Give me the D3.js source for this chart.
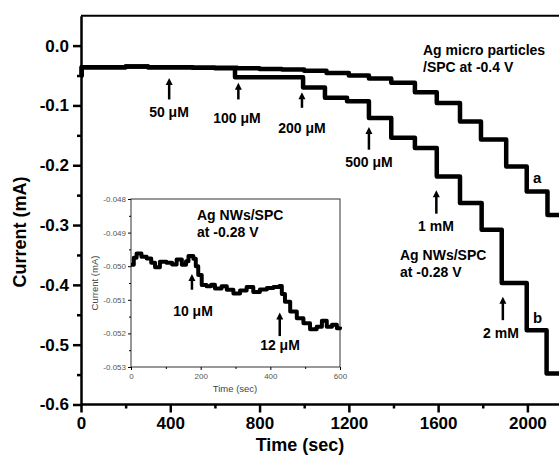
<!DOCTYPE html>
<html>
<head>
<meta charset="utf-8">
<script src="https://cdn.jsdelivr.net/npm/d3@7"></script>
<style>
  body { margin: 0; background: #fff; }
  svg { display: block; font-family: "Liberation Sans", Arial, sans-serif; }
</style>
</head>
<body>
<div id="chart"></div>
<script>
// Data
// ==================================================================
// curve a: Ag micro particles/SPC at -0.4 V  (time in sec, current in mA)
const timeA = [0, 3, 100, 200, 300, 400, 500, 600, 700, 800, 900, 1000, 1100, 1200, 1290, 1390, 1496, 1594, 1698, 1792, 1905, 1997, 2090, 2200];
const currA = [-0.050, -0.036, -0.036, -0.035, -0.036, -0.036, -0.037, -0.037, -0.038, -0.039, -0.040, -0.042, -0.046, -0.050, -0.055, -0.062, -0.078, -0.096, -0.127, -0.157, -0.202, -0.244, -0.283, -0.285];

// curve b: Ag NWs/SPC at -0.28 V
const timeB = [0, 3, 100, 200, 300, 400, 500, 600, 690, 995, 1093, 1192, 1290, 1390, 1496, 1594, 1698, 1795, 1885, 1997, 2086, 2200];
const currB = [-0.050, -0.036, -0.036, -0.035, -0.036, -0.036, -0.037, -0.038, -0.053, -0.070, -0.087, -0.093, -0.121, -0.154, -0.171, -0.219, -0.263, -0.308, -0.397, -0.476, -0.548, -0.550];

// inset trace
const timeInset = [0, 8, 16, 30, 45, 58, 69, 83, 102, 118, 131, 146, 158, 165, 179, 186, 193, 203, 217, 230, 241, 260, 275, 294, 313, 332, 351, 370, 390, 409, 426, 433, 442, 457, 476, 495, 514, 533, 548, 562, 577, 591, 600];
const currInset = [-0.04996, -0.04975, -0.04962, -0.04972, -0.04977, -0.04990, -0.05003, -0.04987, -0.04990, -0.04995, -0.04980, -0.04996, -0.04985, -0.04970, -0.04978, -0.05000, -0.05026, -0.05056, -0.05060, -0.05055, -0.05066, -0.05060, -0.05070, -0.05081, -0.05072, -0.05062, -0.05077, -0.05069, -0.05065, -0.05062, -0.05059, -0.05083, -0.05106, -0.05135, -0.05155, -0.05170, -0.05188, -0.05180, -0.05162, -0.05180, -0.05174, -0.05185, -0.05180];

// tick labels
const xTicks = [0, 400, 800, 1200, 1600, 2000];
const xMinor = [200, 600, 1000, 1400, 1800];
const yTicks = [0.0, -0.1, -0.2, -0.3, -0.4, -0.5, -0.6];
const yMinor = [-0.05, -0.15, -0.25, -0.35, -0.45, -0.55];
const insetXTicks = [0, 200, 400, 600];
const insetXMinor = [100, 300, 500];
const insetYTicks = [-0.048, -0.049, -0.050, -0.051, -0.052, -0.053];
const insetYMinor = [-0.0485, -0.0495, -0.0505, -0.0515, -0.0525];

// annotations: [label, time of arrow, arrow top value, arrow bottom value]
const mainArrows = [
    ["50 \u03bcM", 395, -0.054, -0.090],
    ["100 \u03bcM", 705, -0.062, -0.090],
    ["200 \u03bcM", 990, -0.078, -0.104],
    ["500 \u03bcM", 1290, -0.136, -0.174],
    ["1 mM", 1592, -0.242, -0.281],
    ["2 mM", 1890, -0.420, -0.459]
];
const insetArrows = [
    ["10 \u03bcM", 175, -0.05023, -0.05070],
    ["12 \u03bcM", 427, -0.05138, -0.05208]
];

// Sizes
// ==================================================================
const width = 559, height = 461;

const svg = d3.select("#chart")
    .append("svg")
        .attr("width", width)
        .attr("height", height);

// plain hyphen minus like the original
const fmt1 = d => d.toFixed(1),
    fmt3 = d => d.toFixed(3);

// Scales
// ==================================================================
let xScale = d3.scaleLinear()
    .domain([0, 2200])
    .range([81, 81 + 2200 * 0.2232]);

let yScale = d3.scaleLinear()
    .domain([-0.6, 0.05])
    .range([404.5, 15.7]);

let xInset = d3.scaleLinear()
    .domain([0, 600])
    .range([131, 340]);

let yInset = d3.scaleLinear()
    .domain([-0.053, -0.048])
    .range([367, 199]);

// Axes
// ==================================================================
function draw_axes() {
    // top frame
    svg.append("line")
        .attr("x1", 81).attr("x2", width)
        .attr("y1", 15.7).attr("y2", 15.7)
        .attr("stroke", "#000").attr("stroke-width", 2);

    let gx = svg.append("g")
        .attr("transform", "translate(0,404.5)")
        .call(d3.axisBottom(xScale).tickValues(xTicks).tickFormat(d3.format("d"))
            .tickSize(8).tickSizeOuter(0).tickPadding(4));
    gx.select(".domain").attr("stroke-width", 2.5).attr("d", "M81,0H" + width);
    gx.selectAll(".tick line").attr("stroke-width", 2.5);
    gx.selectAll("text").attr("font-size", "17px").attr("font-weight", "bold").attr("fill", "#000");

    let gxm = svg.append("g")
        .attr("transform", "translate(0,404.5)")
        .call(d3.axisBottom(xScale).tickValues(xMinor).tickFormat("").tickSize(4).tickSizeOuter(0));
    gxm.select(".domain").remove();
    gxm.selectAll(".tick line").attr("stroke-width", 2.5);

    let gy = svg.append("g")
        .attr("transform", "translate(81,0)")
        .call(d3.axisLeft(yScale).tickValues(yTicks).tickFormat(fmt1)
            .tickSize(8).tickSizeOuter(0).tickPadding(4));
    gy.select(".domain").attr("stroke-width", 2.5);
    gy.selectAll(".tick line").attr("stroke-width", 2.5);
    gy.selectAll("text").attr("font-size", "17px").attr("font-weight", "bold").attr("fill", "#000");

    let gym = svg.append("g")
        .attr("transform", "translate(81,0)")
        .call(d3.axisLeft(yScale).tickValues(yMinor).tickFormat("").tickSize(4).tickSizeOuter(0));
    gym.select(".domain").remove();
    gym.selectAll(".tick line").attr("stroke-width", 2.5);

    svg.append("text")
        .attr("x", 300).attr("y", 451)
        .attr("text-anchor", "middle")
        .attr("font-size", "18px").attr("font-weight", "bold")
        .text("Time (sec)");

    svg.append("text")
        .attr("transform", "translate(26,232) rotate(-90)")
        .attr("text-anchor", "middle")
        .attr("font-size", "18px").attr("font-weight", "bold")
        .text("Current (mA)");
}

// Curves
// ==================================================================
function draw_curve(times, values, xs, ys, w) {
    let pts = times.map((t, i) => [t, values[i]]);
    svg.append("path")
        .datum(pts)
        .attr("fill", "none")
        .attr("stroke", "#000")
        .attr("stroke-width", w)
        .attr("stroke-linejoin", "round")
        .attr("d", d3.line()
            .x(function(d) { return xs(d[0]); })
            .y(function(d) { return ys(d[1]); })
            .curve(d3.curveStepAfter));
}

function draw_arrow(xs, ys, t, top, bottom, w) {
    let x = xs(t), y0 = ys(top), y1 = ys(bottom);
    svg.append("line")
        .attr("x1", x).attr("x2", x)
        .attr("y1", y0 + 5).attr("y2", y1)
        .attr("stroke", "#000").attr("stroke-width", w);
    svg.append("path")
        .attr("d", "M" + (x - 3.5) + "," + (y0 + 7) + "L" + x + "," + y0 + "L" + (x + 3.5) + "," + (y0 + 7) + "Z")
        .attr("fill", "#000");
}

function label(x, y, lines, size, anchor) {
    let t = svg.append("text")
        .attr("x", x).attr("y", y)
        .attr("font-size", size).attr("font-weight", "bold")
        .attr("text-anchor", anchor || "start");
    lines.forEach((l, i) => {
        t.append("tspan").attr("x", x).attr("dy", i === 0 ? 0 : "1.2em").text(l);
    });
}

// Inset
// ==================================================================
function draw_inset() {
    svg.append("rect")
        .attr("x", 131).attr("y", 199)
        .attr("width", 209).attr("height", 168)
        .attr("fill", "#fff").attr("stroke", "#333").attr("stroke-width", 1);

    let gx = svg.append("g")
        .attr("transform", "translate(0,367)")
        .call(d3.axisBottom(xInset).tickValues(insetXTicks).tickFormat(d3.format("d"))
            .tickSize(3).tickSizeOuter(0).tickPadding(3));
    gx.select(".domain").remove();
    gx.selectAll("text").attr("font-size", "8px").attr("fill", "#555");

    let gxm = svg.append("g")
        .attr("transform", "translate(0,367)")
        .call(d3.axisBottom(xInset).tickValues(insetXMinor).tickFormat("").tickSize(2).tickSizeOuter(0));
    gxm.select(".domain").remove();

    let gy = svg.append("g")
        .attr("transform", "translate(131,0)")
        .call(d3.axisLeft(yInset).tickValues(insetYTicks).tickFormat(fmt3)
            .tickSize(3).tickSizeOuter(0).tickPadding(2));
    gy.select(".domain").remove();
    gy.selectAll("text").attr("font-size", "8px").attr("fill", "#555");

    let gym = svg.append("g")
        .attr("transform", "translate(131,0)")
        .call(d3.axisLeft(yInset).tickValues(insetYMinor).tickFormat("").tickSize(2).tickSizeOuter(0));
    gym.select(".domain").remove();

    svg.append("text")
        .attr("x", 235).attr("y", 392)
        .attr("text-anchor", "middle")
        .attr("font-size", "9.5px").attr("fill", "#444")
        .text("Time (sec)");

    svg.append("text")
        .attr("transform", "translate(98,283) rotate(-90)")
        .attr("text-anchor", "middle")
        .attr("font-size", "9.5px").attr("fill", "#444")
        .text("Current (mA)");

    draw_curve(timeInset, currInset, xInset, yInset, 4);
}

// Plot
// ==================================================================
draw_axes();
draw_curve(timeA, currA, xScale, yScale, 4.5);
draw_curve(timeB, currB, xScale, yScale, 4.5);
draw_inset();

mainArrows.forEach(a => draw_arrow(xScale, yScale, a[1], a[2], a[3], 2.5));
insetArrows.forEach(a => draw_arrow(xInset, yInset, a[1], a[2], a[3], 2.5));

label(169, 117, [mainArrows[0][0]], "14px", "middle");
label(237, 123, [mainArrows[1][0]], "14px", "middle");
label(302, 133, [mainArrows[2][0]], "14px", "middle");
label(369, 167, [mainArrows[3][0]], "14px", "middle");
label(436, 231, [mainArrows[4][0]], "14px", "middle");
label(501, 338, [mainArrows[5][0]], "14px", "middle");
label(193, 316, [insetArrows[0][0]], "14px", "middle");
label(280, 350, [insetArrows[1][0]], "14px", "middle");

label(423, 55, ["Ag micro particles", "/SPC at -0.4 V"], "14px");
label(400, 260, ["Ag NWs/SPC", "at -0.28 V"], "14px");
label(197, 220, ["Ag NWs/SPC", "at -0.28 V"], "14px");
label(533, 183, ["a"], "15px");
label(533, 323, ["b"], "15px");
</script>
</body>
</html>
